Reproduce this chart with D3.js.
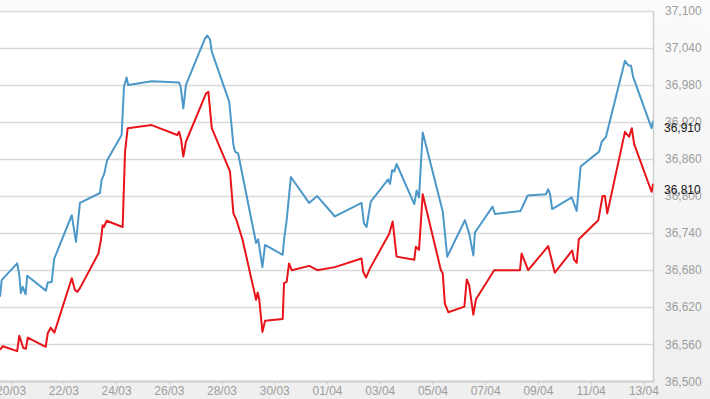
<!DOCTYPE html>
<html><head><meta charset="utf-8">
<script src="https://cdn.jsdelivr.net/npm/d3@7"></script>
<style>html,body{margin:0;padding:0;background:#fff;}svg{display:block;}</style>
</head><body>
<script>
// Time offsets in days after 20/03 00:00, and values
const baseDate = new Date(2015, 2, 20);
const blueDays = [-0.40,-0.34,0.25,0.33,0.39,0.46,0.57,0.63,1.34,1.41,1.56,1.65,2.32,2.48,2.63,3.39,3.45,3.55,3.66,4.21,4.30,4.40,4.46,5.35,6.39,6.45,6.55,6.65,7.37,7.46,7.56,7.63,8.29,8.45,8.51,8.63,9.31,9.39,9.55,9.65,10.32,10.37,10.47,10.63,11.32,11.63,12.30,13.31,13.40,13.50,13.66,14.32,14.39,14.47,14.55,14.64,15.31,15.40,15.49,15.63,16.39,16.56,17.23,17.39,17.55,17.61,18.28,18.37,19.34,19.61,20.30,20.39,20.46,20.54,21.28,21.47,21.62,22.32,22.42,22.58,23.30,23.42,23.53,23.61,24.31,24.37];
const blueValues = [36637,36664,36691,36672,36643,36653,36641,36671,36647,36660,36661,36698,36769,36726,36789,36805,36826,36836,36858,36899,36977,36992,36980,36986,36984,36977,36942,36980,37055,37060,37054,37034,36953,36883,36872,36869,36724,36730,36685,36721,36705,36729,36761,36831,36789,36800,36767,36789,36756,36750,36791,36827,36820,36842,36840,36852,36787,36809,36798,36903,36775,36702,36761,36740,36704,36741,36783,36771,36776,36801,36803,36811,36803,36779,36798,36776,36848,36872,36888,36896,37019,37012,37011,36993,36910,36922];
const redDays = [-0.40,-0.30,0.25,0.33,0.48,0.58,0.65,1.33,1.41,1.52,1.66,2.32,2.44,2.53,2.63,3.33,3.43,3.49,3.54,3.64,4.25,4.34,4.44,5.35,6.32,6.39,6.47,6.55,6.65,7.41,7.50,7.63,8.32,8.45,8.57,8.80,9.31,9.37,9.43,9.55,9.65,10.32,10.37,10.47,10.56,10.66,11.33,11.63,12.30,13.31,13.37,13.48,13.63,14.36,14.49,14.64,15.31,15.37,15.49,15.63,16.32,16.39,16.47,16.60,17.21,17.30,17.39,17.55,17.65,18.34,19.32,19.38,19.63,20.39,20.64,21.30,21.37,21.47,21.55,22.29,22.45,22.54,22.63,23.30,23.46,23.56,23.65,24.31,24.37];
const redValues = [36551,36557,36549,36574,36554,36553,36571,36556,36578,36587,36579,36667,36648,36645,36651,36707,36730,36753,36750,36760,36750,36872,36910,36915,36899,36904,36891,36864,36888,36966,36969,36910,36840,36772,36761,36729,36632,36644,36633,36580,36598,36601,36659,36661,36691,36680,36687,36680,36685,36699,36678,36668,36683,36739,36759,36702,36697,36718,36713,36803,36680,36675,36626,36612,36621,36665,36656,36608,36633,36680,36680,36707,36680,36719,36676,36712,36697,36692,36730,36761,36800,36800,36772,36904,36896,36910,36884,36807,36820];
const yTicks = [36500,36560,36620,36680,36740,36800,36860,36920,36980,37040,37100];
const xTickDays = [0,2,4,6,8,10,12,14,16,18,20,22,24];
const lastLabels = [36910, 36810];

const W = 710, H = 399;
const plot = {left: -40, right: 653.5, top: 11, bottom: 381.5};

const svg = d3.select("body").append("svg").attr("width", W).attr("height", H);
const defs = svg.append("defs");
const grad = defs.append("linearGradient").attr("id","bg").attr("x1",0).attr("y1",0).attr("x2",0).attr("y2",1);
grad.append("stop").attr("offset","0%").attr("stop-color","#fbfbfb");
grad.append("stop").attr("offset","100%").attr("stop-color","#efefef");
defs.append("clipPath").attr("id","clip").append("rect")
  .attr("x", plot.left).attr("y", plot.top - 2).attr("width", plot.right - plot.left).attr("height", plot.bottom - plot.top + 2);

svg.append("rect").attr("width", W).attr("height", H).attr("fill", "url(#bg)");
svg.append("rect").attr("x", plot.left).attr("y", plot.top).attr("width", plot.right - plot.left).attr("height", plot.bottom - plot.top).attr("fill", "#fff");

const toDate = d => new Date(baseDate.getTime() + d * 86400000);
const x = d3.scaleTime().domain([toDate(0), toDate(24)]).range([10.6, 643.4]);
const y = d3.scaleLinear().domain([36500, 37100]).range([381.4, 10.8]);

// gridlines
svg.append("g").selectAll("line").data(yTicks).join("line")
  .attr("x1", plot.left).attr("x2", plot.right)
  .attr("y1", d => Math.round(y(d)) + 0.5).attr("y2", d => Math.round(y(d)) + 0.5)
  .attr("stroke", "#d9d9d9").attr("stroke-width", 1.5);

// right border
svg.append("line").attr("x1", plot.right).attr("x2", plot.right).attr("y1", plot.top).attr("y2", plot.bottom)
  .attr("stroke", "#cfcfcf").attr("stroke-width", 1.5);

// bottom axis
const fmtDate = d3.timeFormat("%d/%m");
const xAxis = d3.axisBottom(x).tickValues(xTickDays.map(toDate)).tickFormat(fmtDate).tickSize(3).tickPadding(2);
const gx = svg.append("g").attr("transform", `translate(0,${plot.bottom})`).call(xAxis);
gx.select(".domain").remove();
gx.selectAll(".tick line").attr("stroke", "#cccccc");
gx.selectAll(".tick text").attr("fill", "#9d9d9d").attr("font-family", "Liberation Sans, Arial, sans-serif").attr("font-size", 12);
svg.append("line").attr("x1", plot.left).attr("x2", plot.right + 0.75).attr("y1", plot.bottom).attr("y2", plot.bottom)
  .attr("stroke", "#cfcfcf").attr("stroke-width", 2);

// right axis labels
const fmtNum = d3.format(",");
svg.append("g").selectAll("text").data(yTicks).join("text")
  .attr("x", 665).attr("y", d => y(d)).attr("dy", "0.35em")
  .attr("fill", "#9d9d9d").attr("font-family", "Liberation Sans, Arial, sans-serif").attr("font-size", 12)
  .text(d => fmtNum(d));

// lines
const line = d3.line().x(d => x(toDate(d[0]))).y(d => y(d[1]));
const gLines = svg.append("g").attr("clip-path", "url(#clip)");
gLines.append("path").datum(d3.zip(blueDays, blueValues)).attr("d", line)
  .attr("fill", "none").attr("stroke", "#4b98c9").attr("stroke-width", 2).attr("stroke-linejoin", "round");
gLines.append("path").datum(d3.zip(redDays, redValues)).attr("d", line)
  .attr("fill", "none").attr("stroke", "#e8141a").attr("stroke-width", 2).attr("stroke-linejoin", "round");

// last value labels
svg.append("g").selectAll("text").data(lastLabels).join("text")
  .attr("x", 664).attr("y", d => y(d)).attr("dy", "0.35em")
  .attr("fill", "#111").attr("font-family", "Liberation Sans, Arial, sans-serif").attr("font-size", 12)
  .text(d => fmtNum(d));
</script>
</body></html>
